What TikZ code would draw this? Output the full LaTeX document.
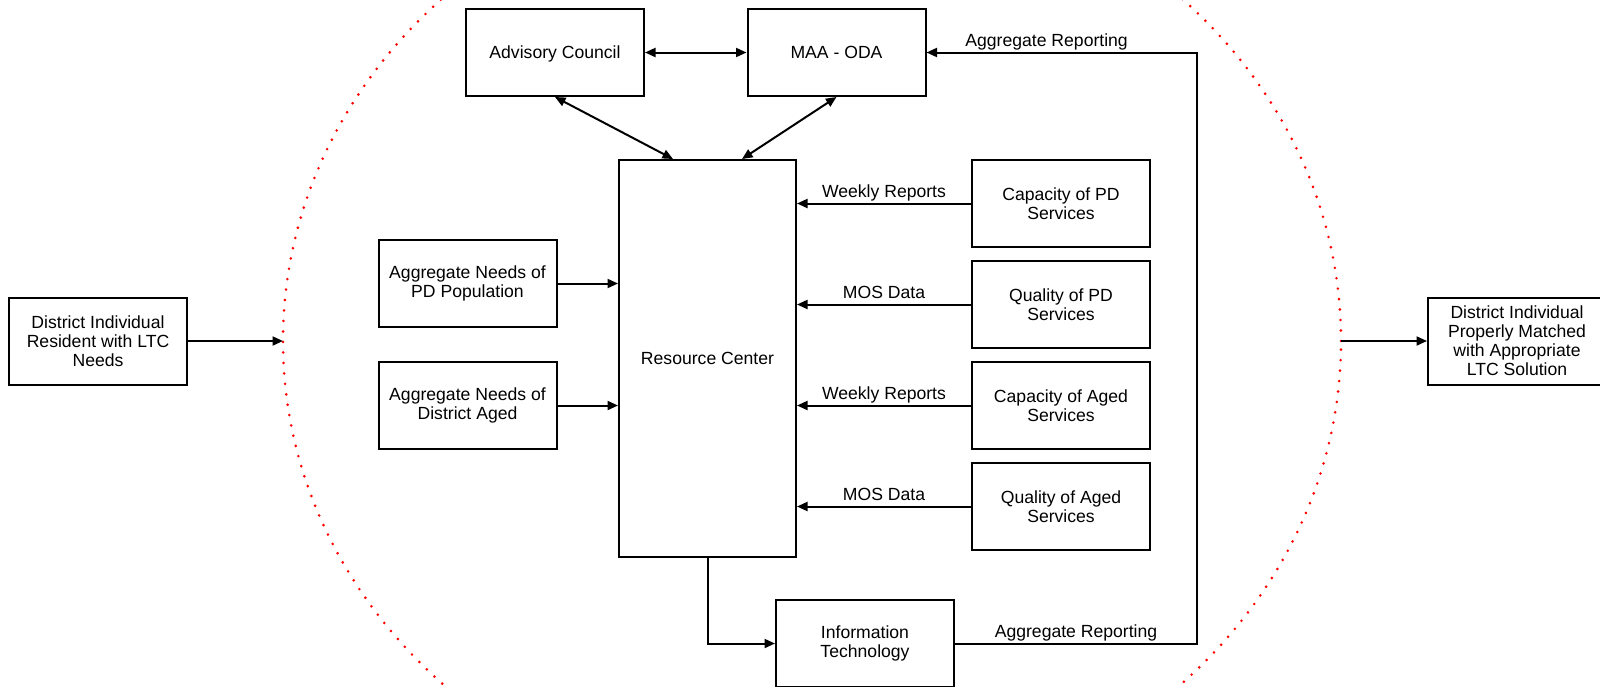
\documentclass[tikz,border=0pt]{standalone}
\usepackage{fontspec}
\setmainfont{Liberation Sans}
\usetikzlibrary{arrows.meta,shapes.geometric}
\begin{document}
\begin{tikzpicture}[x=1pt,y=-1pt,
  txt/.style={font=\fontsize{17.6}{19}\selectfont},
  box/.style={txt,draw,line width=2pt,minimum width=178pt,minimum height=87pt,inner sep=2pt,align=center},
  oneline/.style={text depth=0pt},
  conn/.style={line width=2pt},
  arr/.style={conn,-{Triangle[length=10.5pt,width=9pt]}},
  darr/.style={conn,{Triangle[length=10.5pt,width=9pt]}-{Triangle[length=10.5pt,width=9pt]}},
  lbl/.style={txt,above,inner sep=1pt,text depth=3.7pt},
  ringstyle/.style={draw=red,ellipse,inner sep=0pt,outer sep=0pt,line width=2.9pt,dash pattern=on 0pt off 10.5pt,line cap=round}]
\useasboundingbox (0,0) rectangle (1600,686);
\clip (0,0) rectangle (1600,686);
\fill[white] (0,0) rectangle (1600,686);
\node[ringstyle,minimum width=1058pt,minimum height=958pt] (ring) at (812,341) {};

\node[box] (left) at (98,341) {District Individual\\Resident with LTC\\Needs};
\node[box] (right) at (1517,341) {District Individual\\Properly Matched\\with Appropriate\\LTC Solution};
\node[box,oneline] (adv) at (555,52.5) {Advisory Council};
\node[box,oneline] (maa) at (836.5,52.5) {MAA - ODA};
\node[box,oneline,minimum width=177pt,minimum height=397pt] (rc) at (707.5,358.5) {Resource Center};
\node[box] (apd) at (467.5,283.5) {Aggregate Needs of\\PD Population};
\node[box] (aag) at (467.5,405.5) {Aggregate Needs of\\District Aged};
\node[box] (cpd) at (1061,203.5) {Capacity of PD\\Services};
\node[box] (qpd) at (1061,304.5) {Quality of PD\\Services};
\node[box] (cag) at (1061,405.5) {Capacity of Aged\\Services};
\node[box] (qag) at (1061,506.5) {Quality of Aged\\Services};
\node[box] (it) at (865,643.5) {Information\\Technology};
\coordinate (cr) at (1197,350);

\draw[arr] (left.east) -- (ring.west);
\draw[arr] (ring.east) -- (right.west);
\draw[darr] (adv) -- (maa);
\draw[darr] (adv.south) -- ([xshift=-34.5pt]rc.north);
\draw[darr] (maa.south) -- ([xshift=34.5pt]rc.north);
\draw[arr] (apd) -- (apd -| rc.west);
\draw[arr] (aag) -- (aag -| rc.west);
\draw[arr] (cpd) -- node[lbl]{Weekly Reports} (cpd -| rc.east);
\draw[arr] (qpd) -- node[lbl]{MOS Data} (qpd -| rc.east);
\draw[arr] (cag) -- node[lbl]{Weekly Reports} (cag -| rc.east);
\draw[arr] (qag) -- node[lbl]{MOS Data} (qag -| rc.east);
\draw[arr] (rc.south) |- (it.west);
\draw[arr] (it.east) -| node[lbl,pos=0.25]{Aggregate Reporting} (cr)
  |- node[lbl,pos=0.778]{Aggregate Reporting} (maa.east);
\end{tikzpicture}
\end{document}
